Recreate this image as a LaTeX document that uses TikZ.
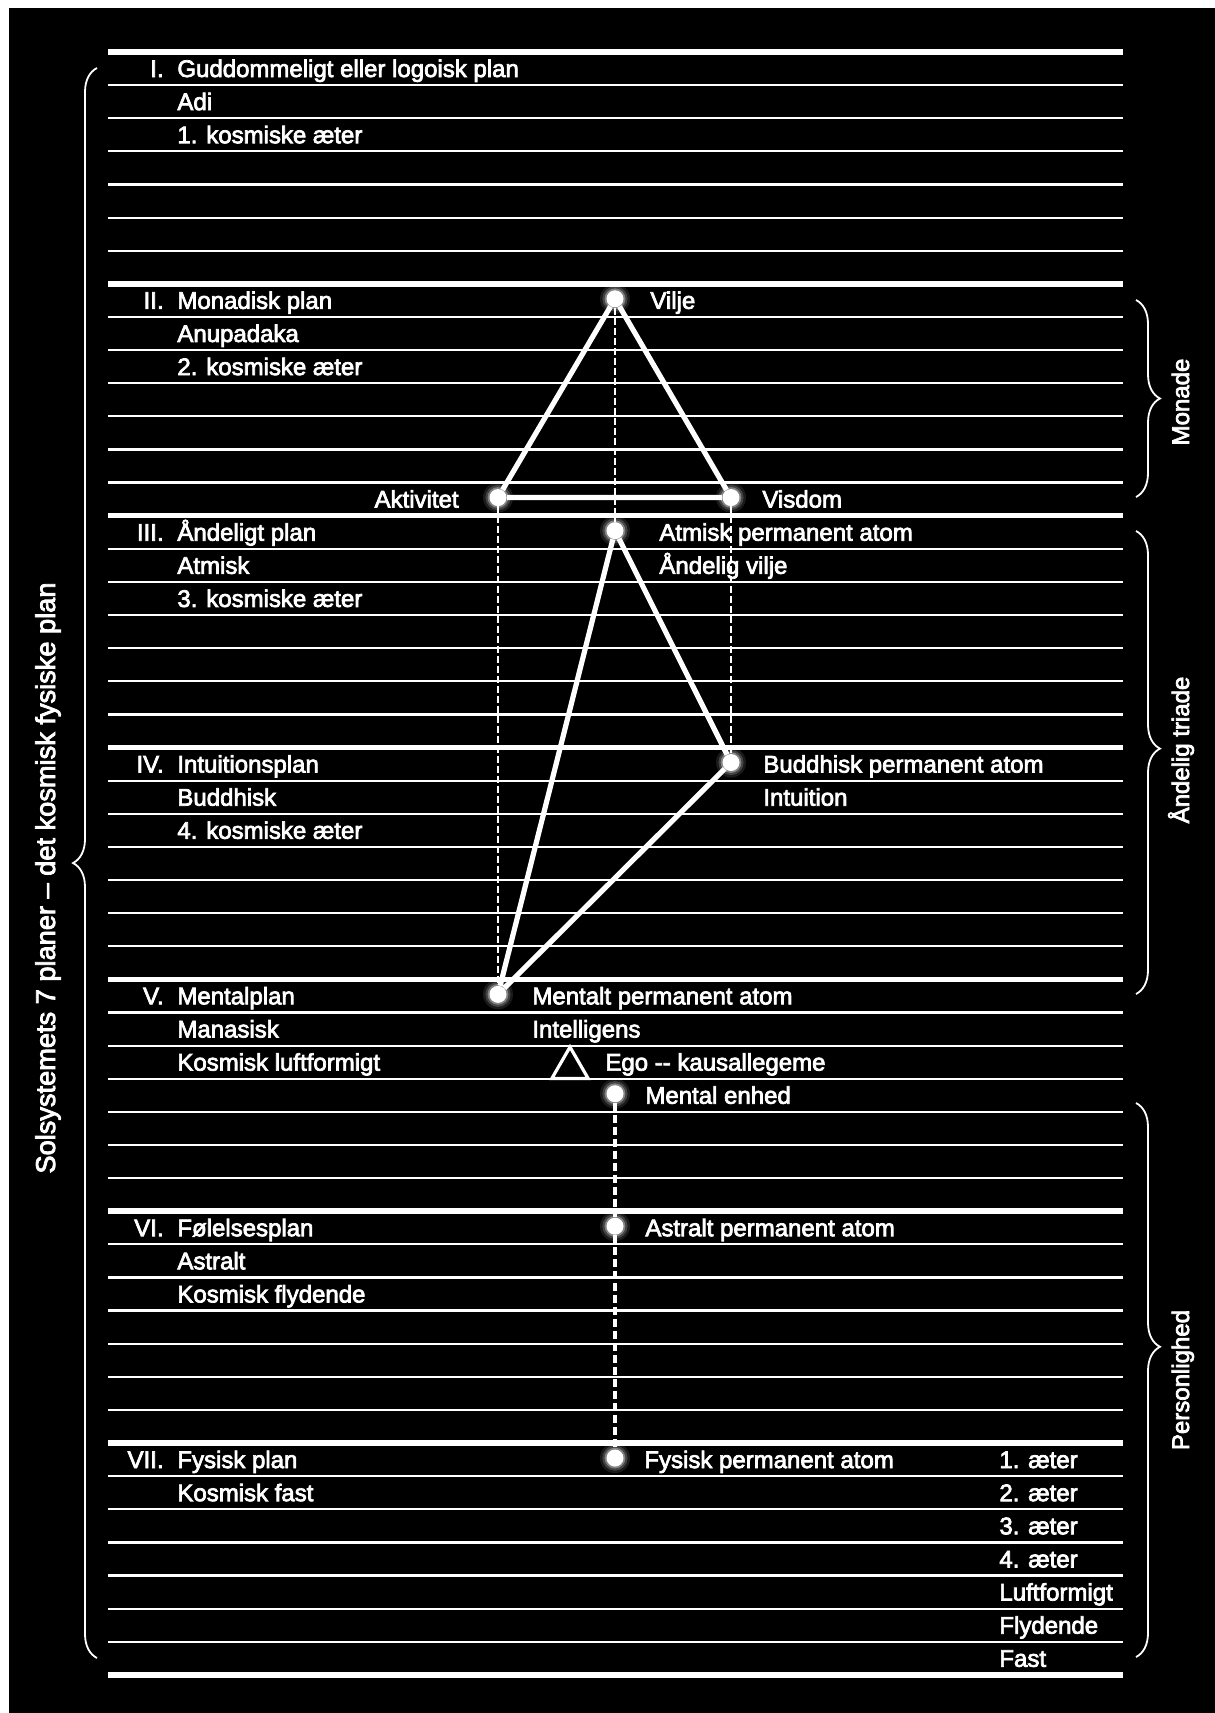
\documentclass[tikz,border=0pt]{standalone}
\usepackage{fontspec}
\setmainfont{Liberation Sans}[FakeBold=3]
\usepackage{tikz}
\usetikzlibrary{positioning, decorations.pathreplacing, shapes.geometric}

\begin{document}
\begin{tikzpicture}[x=0.5pt, y=-0.5pt, font=\fontsize{12}{14}\selectfont, text=white, inner sep=0pt,
  dot/.style={circle, fill=white, minimum size=8.5pt},
  bond/.style={white, line width=2.6pt, line join=round},
  link/.style={white, line width=1pt, dash pattern=on 3.5pt off 1.5pt},
  chain/.style={white, line width=2.2pt, dash pattern=on 4pt off 2pt},
  curly/.style={white, line width=0.9pt, decorate, decoration={brace, amplitude=12pt}},
  sidelabel/.style={rotate=90, anchor=base},
  egotri/.style={draw=white, line width=1.6pt, regular polygon, regular polygon sides=3, minimum size=21pt}]

  \fill[white] (0,0) rectangle (1215,1713);
  \fill[black] (9,8) rectangle (1215,1713);

  \foreach \k in {0,...,49}{
    \pgfmathsetmacro{\w}{mod(\k,7)==0 ? 2.8 : 1.1}
    \draw[white, line width=\w pt] (108, 52+\k*33.12) -- (1123, 52+\k*33.12);
  }

  \foreach \k/\num/\txt in {0/I./Guddommeligt eller logoisk plan, 7/II./Monadisk plan,
      14/III./Åndeligt plan, 21/IV./Intuitionsplan, 28/V./Mentalplan,
      35/VI./Følelsesplan, 42/VII./Fysisk plan}{
    \node[anchor=base east] (num\k) at (164, 52+\k*33.12+25) {\num};
    \node[anchor=base west] (plane\k) at (177, 52+\k*33.12+25) {\txt};
  }
  \foreach \k/\txt in {1/Adi, 2/1. kosmiske æter, 8/Anupadaka, 9/2. kosmiske æter,
      15/Atmisk, 16/3. kosmiske æter, 22/Buddhisk, 23/4. kosmiske æter,
      29/Manasisk, 30/Kosmisk luftformigt, 36/Astralt, 37/Kosmisk flydende,
      43/Kosmisk fast}{
    \node[anchor=base west] (sub\k) at (177, 52+\k*33.12+25) {\txt};
  }
  \foreach \k/\txt in {42/1. æter, 43/2. æter, 44/3. æter, 45/4. æter,
      46/Luftformigt, 47/Flydende, 48/Fast}{
    \node[anchor=base west] (phys\k) at (999, 52+\k*33.12+25) {\txt};
  }

  \node[dot] (vilje) at (615, 52+7*33.12+15) {};
  \node[dot] (aktivitet) at (498, 52+13*33.12+15) {};
  \node[dot] (visdom) at (731, 52+13*33.12+15) {};
  \node[dot] (atmisk) at (615, 52+14*33.12+15) {};
  \node[dot] (buddhisk) at (731, 52+21*33.12+15) {};
  \node[dot] (mentalt) at (498, 52+28*33.12+15) {};
  \node[dot] (enhed) at (615, 52+31*33.12+15) {};
  \node[dot] (astralt) at (615, 52+35*33.12+15) {};
  \node[dot] (fysisk) at (615, 52+42*33.12+15) {};
  \node[egotri] (ego) at (570, 1068) {};

  \draw[link] (vilje) -- (atmisk);
  \draw[link] (aktivitet) -- (mentalt);
  \draw[link] (visdom) -- (buddhisk);
  \draw[bond] (vilje) -- (aktivitet) -- (visdom) -- (vilje);
  \draw[bond] (atmisk) -- (buddhisk) -- (mentalt) -- (atmisk);
  \draw[chain] (enhed) -- (astralt) -- (fysisk);

  \foreach \d in {vilje, aktivitet, visdom, atmisk, buddhisk, mentalt, enhed, astralt, fysisk}
    \foreach \r/\o in {7.5pt/0.1, 6.3pt/0.18, 5.2pt/0.35}
      \fill[white, opacity=\o] (\d) circle (\r);

  \node[anchor=base west] (viljetxt) at (650, 52+7*33.12+25) {Vilje};
  \node[anchor=base east] (aktivtxt) at (459, 52+13*33.12+25) {Aktivitet};
  \node[anchor=base west] (visdomtxt) at (762, 52+13*33.12+25) {Visdom};
  \node[anchor=base west] (atmisktxt) at (659, 52+14*33.12+25) {Atmisk permanent atom};
  \node[anchor=base west] (andvilje) at (659, 52+15*33.12+25) {Åndelig vilje};
  \node[anchor=base west] (buddhtxt) at (763, 52+21*33.12+25) {Buddhisk permanent atom};
  \node[anchor=base west] (intuition) at (763, 52+22*33.12+25) {Intuition};
  \node[anchor=base west] (mentaltxt) at (532, 52+28*33.12+25) {Mentalt permanent atom};
  \node[anchor=base west] (intellig) at (532, 52+29*33.12+25) {Intelligens};
  \node[anchor=base west] (egotxt) at (605, 52+30*33.12+25) {Ego -{}- kausallegeme};
  \node[anchor=base west] (enhedtxt) at (645, 52+31*33.12+25) {Mental enhed};
  \node[anchor=base west] (astraltxt) at (645, 52+35*33.12+25) {Astralt permanent atom};
  \node[anchor=base west] (fysisktxt) at (644, 52+42*33.12+25) {Fysisk permanent atom};

  \draw[curly] (97,1658) -- (97,68);
  \draw[curly] (1136,300) -- (1136,497);
  \draw[curly, decoration={aspect=0.47}] (1136,531) -- (1136,994);
  \draw[curly, decoration={aspect=0.44}] (1136,1103) -- (1136,1657);

  \node[sidelabel, font=\fontsize{13.6}{16}\selectfont] (solsys) at (55, 878) {Solsystemets 7 planer – det kosmisk fysiske plan};
  \node[sidelabel] (monade) at (1189, 402) {Monade};
  \node[sidelabel] (triade) at (1189, 750) {Åndelig triade};
  \node[sidelabel] (personlig) at (1189, 1380) {Personlighed};
\end{tikzpicture}
\end{document}
